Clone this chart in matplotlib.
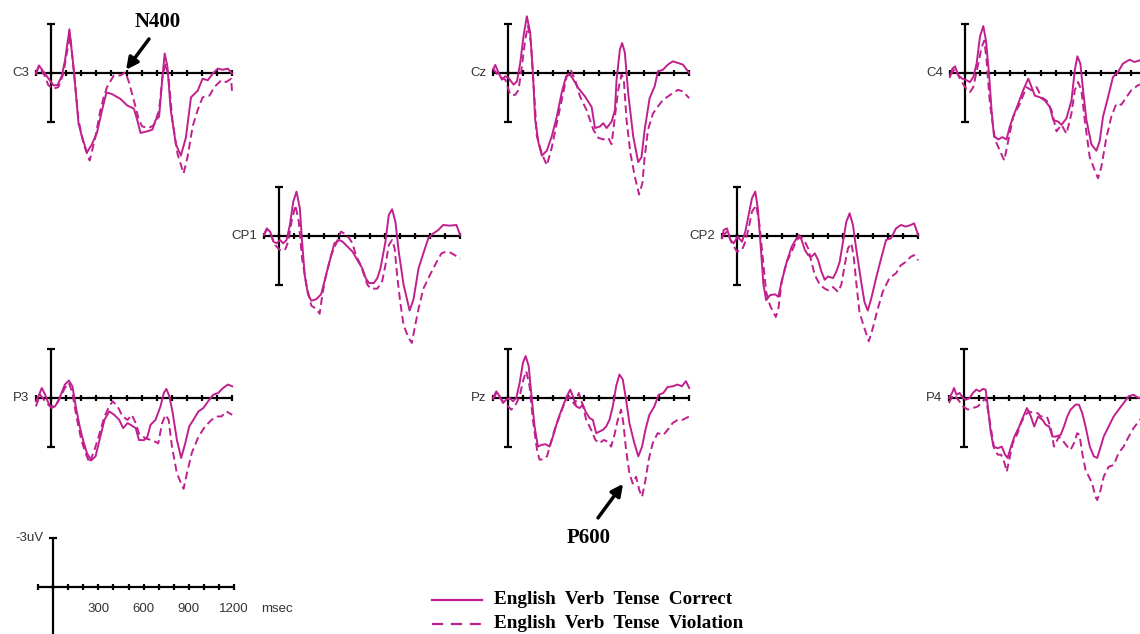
import numpy as np
import matplotlib.pyplot as plt
from matplotlib.lines import Line2D

# ERP waveforms: (ms, uV); negative is plotted upward
c3_correct = [(-100, 0.04), (-80, -0.47), (-40, 0.04), (16, 0.76), (42, 0.75), (71, 0.2), (93, -0.8),
              (122, -2.7), (153, 0.0), (182, 3.1), (204, 3.9), (238, 4.9), (271, 4.4), (304, 3.7),
              (338, 2.3), (367, 1.2), (404, 1.3), (460, 1.6), (504, 2.0), (549, 2.2), (571, 2.9),
              (593, 3.7), (638, 3.6), (671, 3.5), (693, 2.9), (716, 2.7), (738, 0.25), (753, -1.2),
              (771, -0.4), (793, 2.3), (827, 4.4), (860, 5.1), (893, 4.0), (927, 1.5), (971, 1.1),
              (1004, 0.35), (1038, 0.45), (1071, 0.04), (1104, -0.27), (1138, -0.2), (1171, -0.27),
              (1200, 0.04)]
c3_violation = [(-100, 0.04), (-80, -0.4), (-40, 0.2), (-18, 0.75), (16, 0.97), (49, 0.87), (82, 0.04),
                (104, -1.2), (127, -2.3), (153, 0.04), (182, 2.9), (216, 4.4), (256, 5.4), (293, 4.0),
                (327, 2.3), (349, 1.5), (371, 0.87), (416, 0.15), (460, 0.15), (493, -0.05), (516, 0.56),
                (549, 1.7), (582, 2.9), (604, 3.3), (649, 3.4), (682, 3.2), (716, 2.3), (738, 0.25),
                (760, -0.6), (778, 0.25), (804, 2.9), (838, 5.0), (878, 6.2), (904, 5.2), (938, 3.3),
                (971, 2.3), (1004, 1.5), (1049, 1.4), (1082, 0.87), (1127, 0.45), (1160, 0.56),
                (1193, 0.35), (1200, 1.3)]

cz_correct = [(-100, -0.2), (-84, -0.5), (-62, 0.0), (-40, 0.41), (-18, 0.2), (4, 0.31), (37, 0.72),
              (59, 0.52), (81, -0.62), (103, -2.3), (125, -3.5), (147, -2.5), (165, 0.0), (180, 2.9),
              (202, 4.3), (224, 5.1), (257, 4.8), (290, 3.9), (323, 2.7), (356, 1.2), (385, 0.2),
              (411, 0.1), (433, 0.41), (466, 0.93), (510, 1.45), (554, 2.1), (576, 3.4), (609, 3.3),
              (631, 3.1), (653, 3.4), (686, 3.0), (708, 2.3), (719, 0.41), (741, -1.45), (756, -1.85),
              (774, -1.25), (796, 1.25), (829, 3.9), (862, 5.5), (884, 5.2), (905, 3.5), (938, 1.55),
              (971, 0.83), (993, -0.1), (1026, -0.2), (1059, -0.52), (1092, -0.72), (1125, -0.62),
              (1158, -0.52), (1200, 0.0)]
cz_violation = [(-100, -0.3), (-62, 0.2), (-18, 0.41), (15, 1.35), (48, 1.35), (70, 1.04), (92, -0.41),
                (114, -2.07), (132, -2.9), (152, -1.86), (169, 0.62), (191, 3.9), (224, 4.97), (257, 5.7),
                (290, 4.6), (323, 3.1), (356, 1.66), (389, 0.2), (415, -0.2), (444, 0.41), (477, 1.45),
                (521, 2.3), (565, 3.5), (598, 4.0), (631, 4.1), (664, 4.0), (686, 4.4), (708, 2.7),
                (730, 1.04), (752, 0.1), (767, 0.41), (785, 2.9), (811, 4.97), (840, 6.4), (868, 7.5),
                (890, 6.8), (905, 5.2), (927, 3.5), (960, 2.5), (993, 2.07), (1026, 1.66), (1059, 1.45),
                (1092, 1.24), (1125, 1.04), (1158, 1.14), (1200, 1.55)]

c4_correct = [(-100, 0.25), (-84, -0.27), (-66, -0.41), (-44, 0.15), (-18, 0.35), (11, 0.45), (33, 0.56),
              (55, 0.25), (77, -0.58), (99, -2.24), (121, -2.9), (139, -2.0), (159, 0.04), (176, 2.3),
              (192, 3.9), (220, 4.1), (247, 3.96), (275, 4.1), (297, 3.3), (319, 2.7), (352, 1.9),
              (385, 1.07), (419, 0.35), (441, 0.87), (463, 1.4), (496, 1.5), (529, 1.7), (562, 2.1),
              (584, 2.9), (617, 3.0), (639, 3.2), (672, 2.8), (705, 1.7), (727, -0.16), (744, -1.03),
              (764, -0.58), (782, 1.07), (804, 2.9), (837, 4.4), (870, 4.8), (892, 4.2), (914, 2.7),
              (947, 1.5), (980, 0.25), (1013, -0.06), (1046, -0.58), (1090, -0.82), (1123, -0.68),
              (1156, -0.78), (1200, -0.6)]
c4_violation = [(-100, 0.15), (-66, -0.27), (-33, 0.35), (0, 0.87), (33, 1.18), (55, 0.87), (88, -0.58),
                (110, -1.6), (128, -2.0), (143, -0.78), (165, 1.9), (198, 4.1), (231, 4.8), (260, 5.4),
                (286, 4.2), (319, 2.7), (363, 1.9), (407, 0.87), (441, 1.07), (474, 0.87), (507, 1.5),
                (540, 1.7), (573, 2.3), (606, 3.6), (639, 3.2), (672, 3.75), (705, 2.5), (727, 1.07),
                (749, 0.56), (771, 1.07), (793, 2.9), (826, 5.2), (859, 6.0), (881, 6.5), (903, 5.8),
                (936, 4.0), (969, 2.7), (1002, 1.9), (1035, 1.96), (1068, 1.5), (1101, 1.07),
                (1145, 0.76), (1200, 0.6)]

cp1_correct = [(-100, -0.06), (-81, -0.47), (-59, -0.27), (-37, 0.35), (-15, 0.45), (7, 0.25), (28, 0.45),
               (50, 0.25), (72, -0.68), (94, -2.1), (116, -2.74), (138, -1.71), (153, 0.35), (170, 2.4),
               (192, 3.6), (214, 4.0), (247, 3.9), (279, 3.6), (301, 2.8), (334, 1.6), (367, 0.45),
               (400, 0.25), (421, 0.35), (454, 0.66), (487, 0.97), (520, 1.5), (552, 2.0), (574, 2.6),
               (596, 2.9), (629, 2.9), (651, 2.6), (672, 2.0), (705, 0.35), (727, -1.3), (749, -1.65),
               (771, -0.88), (793, 0.97), (825, 3.0), (865, 4.6), (891, 3.9), (924, 2.0), (956, 1.07),
               (989, 0.14), (1022, -0.16), (1055, -0.37), (1087, -0.68), (1131, -0.64), (1175, -0.68),
               (1200, -0.06)]
cp1_violation = [(-100, -0.06), (-81, -0.4), (-59, -0.2), (-26, 0.56), (7, 0.87), (39, 0.87), (61, 0.35),
                 (83, -0.88), (109, -1.9), (131, -0.88), (153, 1.4), (181, 3.0), (214, 4.3), (247, 4.5),
                 (269, 4.8), (290, 3.45), (312, 2.4), (345, 1.2), (384, 0.35), (410, -0.27), (432, -0.16),
                 (465, 0.14), (487, 0.45), (509, 1.18), (541, 1.8), (563, 2.4), (585, 3.0), (607, 3.25),
                 (651, 3.25), (683, 2.8), (705, 1.8), (727, 0.56), (749, 0.25), (766, 0.76), (782, 2.4),
                 (803, 4.1), (825, 5.5), (858, 6.3), (880, 6.6), (902, 5.5), (924, 4.5), (956, 3.25),
                 (1000, 2.4), (1044, 1.6), (1076, 1.07), (1105, 0.97), (1131, 1.01), (1164, 1.18),
                 (1200, 1.4)]

cp2_correct = [(-100, 0.14), (-88, -0.37), (-66, -0.47), (-44, 0.25), (-22, 0.45), (4, 0.04), (33, 0.35),
               (55, -0.27), (77, -1.3), (99, -2.33), (121, -2.74), (138, -1.71), (158, 0.76), (175, 3.0),
               (193, 3.96), (219, 3.65), (252, 3.6), (274, 3.75), (296, 2.8), (329, 1.6), (362, 0.66),
               (395, 0.14), (412, -0.06), (428, 0.25), (450, 0.87), (471, 1.18), (493, 1.28), (515, 1.07),
               (537, 1.48), (559, 2.2), (581, 2.7), (603, 2.5), (636, 2.6), (658, 2.2), (680, 1.6),
               (702, 0.35), (724, -0.88), (746, -1.4), (768, -0.68), (789, 0.76), (822, 2.8), (844, 4.07),
               (866, 4.6), (888, 3.9), (921, 2.6), (954, 1.4), (987, 0.25), (1020, 0.14), (1053, -0.47),
               (1086, -0.68), (1118, -0.58), (1151, -0.68), (1173, -0.78), (1200, -0.06)]
cp2_violation = [(-100, 0.04), (-66, -0.27), (-33, 0.45), (0, 0.97), (33, 0.87), (55, 0.35), (77, -0.47),
                 (99, -1.5), (127, -1.9), (149, -0.68), (171, 1.38), (193, 3.45), (219, 4.3), (241, 4.7),
                 (257, 5.0), (274, 4.5), (296, 2.8), (329, 1.6), (362, 0.97), (395, 0.25), (421, 0.04),
                 (450, 0.35), (471, 0.76), (493, 1.6), (515, 2.4), (548, 3.0), (581, 3.25), (603, 3.35),
                 (636, 3.15), (669, 3.45), (691, 3.0), (713, 1.8), (735, 0.76), (757, 0.45), (772, 1.18),
                 (789, 2.8), (811, 4.7), (844, 5.7), (873, 6.5), (899, 5.7), (932, 4.5), (965, 3.45),
                 (1009, 2.6), (1053, 2.3), (1086, 1.8), (1118, 1.6), (1151, 1.28), (1173, 1.18),
                 (1200, 1.5)]

p3_correct = [(-100, 0.2), (-83, -0.1), (-61, -0.62), (-39, -0.2), (-17, 0.31), (4, 0.62), (26, 0.52),
              (48, 0.2), (70, -0.31), (92, -0.83), (118, -1.08), (142, -0.72), (164, 0.52), (190, 1.76),
              (212, 2.6), (238, 3.4), (266, 3.85), (295, 3.6), (321, 2.6), (354, 1.35), (386, 0.83),
              (419, 1.04), (452, 1.35), (478, 1.86), (507, 1.55), (528, 1.66), (561, 1.86), (583, 2.6),
              (616, 2.6), (638, 2.4), (659, 1.66), (692, 1.35), (725, 0.52), (747, -0.31), (764, -0.56),
              (784, -0.1), (806, 0.93), (834, 2.6), (862, 3.7), (889, 2.8), (915, 1.76), (943, 1.35),
              (976, 0.83), (1009, 0.62), (1041, 0.2), (1074, -0.2), (1107, -0.31), (1140, -0.62),
              (1172, -0.83), (1200, -0.72)]
p3_violation = [(-100, 0.52), (-72, -0.2), (-39, 0.2), (-7, 0.52), (26, 0.52), (59, 0.0), (92, -0.62),
                (118, -0.93), (142, -0.31), (168, 1.14), (201, 2.6), (229, 3.4), (255, 4.0), (288, 3.2),
                (321, 2.2), (354, 1.14), (386, 0.52), (408, 0.2), (441, 0.52), (474, 1.14), (507, 1.35),
                (535, 1.04), (561, 1.55), (583, 2.2), (627, 2.5), (670, 2.6), (710, 2.8), (736, 1.55),
                (758, 1.04), (779, 1.35), (801, 3.0), (834, 4.66), (862, 5.28), (878, 5.6), (900, 4.66),
                (932, 3.4), (976, 2.4), (1020, 1.76), (1063, 1.35), (1096, 1.14), (1129, 1.14),
                (1162, 0.83), (1200, 1.04)]

pz_correct = [(-100, 0.0), (-77, -0.41), (-55, -0.1), (-33, 0.31), (-11, 0.1), (11, 0.0), (33, 0.2),
              (55, 0.0), (77, -0.93), (99, -2.17), (117, -2.59), (137, -1.97), (154, -0.31), (176, 1.76),
              (198, 3.0), (220, 2.9), (249, 2.85), (275, 3.0), (297, 2.4), (330, 1.35), (363, 0.52),
              (390, -0.1), (412, -0.52), (430, -0.1), (452, 0.52), (474, 0.62), (496, 0.41), (513, 0.83),
              (540, 1.24), (562, 1.35), (584, 2.17), (606, 2.07), (628, 1.97), (650, 1.76), (672, 1.35),
              (694, 0.52), (716, -0.72), (738, -1.45), (760, -1.14), (782, 0.1), (804, 1.55), (837, 2.8),
              (863, 3.6), (888, 3.0), (910, 1.97), (936, 1.04), (969, 0.52), (998, -0.2), (1029, -0.31),
              (1057, -0.68), (1090, -0.72), (1123, -0.83), (1152, -0.72), (1178, -1.04), (1200, -0.62)]
pz_violation = [(-100, 0.1), (-77, -0.31), (-44, 0.1), (-11, 0.41), (22, 0.72), (51, 0.41), (77, -0.1),
                (99, -1.04), (121, -1.66), (143, -0.72), (165, 1.35), (192, 3.2), (209, 3.8), (231, 3.8),
                (258, 3.6), (280, 2.9), (308, 1.97), (341, 1.14), (374, 0.31), (407, -0.1), (441, 0.41),
                (469, -0.31), (491, 0.31), (518, 1.35), (551, 1.97), (579, 2.59), (606, 2.8), (634, 2.59),
                (661, 2.7), (683, 3.0), (705, 2.28), (727, 1.35), (749, 0.72), (764, 1.55), (782, 3.2),
                (804, 4.66), (826, 5.28), (848, 4.86), (870, 5.7), (888, 6.1), (910, 5.07), (932, 3.8),
                (958, 2.8), (991, 2.17), (1029, 2.28), (1057, 1.97), (1090, 1.55), (1123, 1.35),
                (1156, 1.35), (1200, 1.14)]

p4_correct = [(-100, 0.0), (-79, -0.31), (-66, -0.62), (-50, -0.2), (-29, -0.31), (-7, 0.0), (15, 0.1),
              (37, 0.0), (59, -0.31), (81, -0.52), (103, -0.41), (125, -0.56), (143, -0.52), (158, 0.52),
              (175, 1.97), (195, 3.0), (224, 3.1), (250, 3.0), (272, 3.5), (289, 3.7), (311, 3.0),
              (333, 2.4), (366, 1.76), (388, 1.24), (417, 0.62), (443, 1.14), (465, 1.76), (491, 1.14),
              (520, 1.35), (542, 1.66), (564, 1.76), (586, 2.38), (607, 2.38), (640, 2.28), (662, 1.76),
              (684, 1.14), (706, 0.72), (739, 0.41), (761, 0.41), (783, 0.93), (805, 1.76), (833, 3.0),
              (860, 3.6), (882, 3.7), (899, 3.2), (925, 2.38), (958, 1.76), (991, 1.14), (1024, 0.72),
              (1057, 0.31), (1090, -0.1), (1123, -0.2), (1156, 0.0), (1200, -0.1)]
p4_violation = [(-100, 0.31), (-72, -0.2), (-39, 0.1), (-7, 0.52), (26, 0.72), (59, 0.62), (92, 0.52),
                (125, 0.2), (143, 0.0), (158, 0.72), (180, 1.97), (202, 3.2), (224, 3.5), (246, 3.5),
                (268, 4.0), (283, 4.55), (300, 3.8), (322, 2.8), (355, 2.17), (377, 1.55), (406, 1.04),
                (432, 0.83), (461, 0.93), (487, 0.93), (509, 1.14), (542, 1.14), (553, 1.24), (575, 1.86),
                (596, 3.0), (629, 2.38), (651, 2.59), (684, 3.0), (706, 3.2), (728, 2.8), (750, 2.17),
                (765, 2.28), (783, 3.4), (805, 4.45), (827, 4.86), (849, 5.28), (871, 6.1), (882, 6.3),
                (904, 5.7), (925, 4.86), (958, 4.24), (991, 4.14), (1024, 3.4), (1057, 3.0), (1090, 2.4),
                (1123, 1.86), (1156, 1.45), (1200, 1.0)]

scale_ticks = [300, 600, 900, 1200]

# page layout (pixels): panel name, x of 0 ms, y of 0 uV
W, H = 1140, 634
PX_MS = 0.151   # pixels per ms
PX_UV = 16.2    # pixels per uV
T_MIN, T_MAX = -160, 1260
V_MIN, V_MAX = -4.6, 8.0

panels = [
    ("C3", 51, 73, c3_correct, c3_violation),
    ("Cz", 508, 73, cz_correct, cz_violation),
    ("C4", 965, 73, c4_correct, c4_violation),
    ("CP1", 279, 236, cp1_correct, cp1_violation),
    ("CP2", 737, 236, cp2_correct, cp2_violation),
    ("P3", 51, 398, p3_correct, p3_violation),
    ("Pz", 508, 398, pz_correct, pz_violation),
    ("P4", 964, 398, p4_correct, p4_violation),
]

MAGENTA = "#c0208e"
LABEL_FONT = "Liberation Sans"
SERIF = "Liberation Serif"
LABEL_SIZE = 9.5

fig = plt.figure(figsize=(W / 100, H / 100), dpi=100)


def panel_axes(x0, y0):
    left = (x0 + T_MIN * PX_MS) / W
    bottom = 1 - (y0 + V_MAX * PX_UV) / H
    width = (T_MAX - T_MIN) * PX_MS / W
    height = (V_MAX - V_MIN) * PX_UV / H
    ax = fig.add_axes([left, bottom, width, height])
    ax.set_xlim(T_MIN, T_MAX)
    ax.set_ylim(V_MAX, V_MIN)  # negative up
    ax.axis("off")
    return ax


def draw_frame(ax, bottom_cap=True):
    kw = dict(color="black", lw=1.6, clip_on=False, solid_capstyle="butt")
    ax.plot([-100, 1200], [0, 0], **kw)
    ax.plot([0, 0], [-3, 3], **kw)
    ax.plot([-28, 28], [-3, -3], **kw)
    if bottom_cap:
        ax.plot([-28, 28], [3, 3], **kw)
    ax.vlines(np.arange(-100, 1201, 100), -0.2, 0.2, color="black", lw=1.6, clip_on=False)


for name, x0, y0, correct, violation in panels:
    ax = panel_axes(x0, y0)
    draw_frame(ax)
    t, v = zip(*correct)
    ax.plot(t, v, color=MAGENTA, lw=1.4, clip_on=False)
    t, v = zip(*violation)
    ax.plot(t, v, color=MAGENTA, lw=1.4, ls=(0, (4, 2.2)), clip_on=False)
    ax.text(-145, 0, name, ha="right", va="center", fontsize=LABEL_SIZE, family=LABEL_FONT,
            color="#333333")

    if name == "C3":
        ax.annotate("", xy=(497, -0.2), xytext=(649, -2.1),
                    arrowprops=dict(arrowstyle="-|>,head_length=0.7,head_width=0.35",
                                    lw=2.5, color="black", shrinkA=0, shrinkB=0))
        ax.text(709, -3.15, "N400", ha="center", va="center", fontsize=15,
                family=SERIF, weight="bold")
    if name == "Pz":
        ax.annotate("", xy=(762, 5.3), xytext=(596, 7.4),
                    arrowprops=dict(arrowstyle="-|>,head_length=0.7,head_width=0.35",
                                    lw=2.5, color="black", shrinkA=0, shrinkB=0))
        ax.text(536, 8.64, "P600", ha="center", va="center", fontsize=15,
                family=SERIF, weight="bold")

# calibration axes
ax = panel_axes(53, 587)
draw_frame(ax, bottom_cap=False)
ax.text(-60, -3, "-3uV", ha="right", va="center", fontsize=LABEL_SIZE, family=LABEL_FONT,
        color="#333333")
for tk in scale_ticks:
    ax.text(tk, 1.35, str(tk), ha="center", va="center", fontsize=LABEL_SIZE, family=LABEL_FONT,
            color="#333333")
ax.text(1380, 1.35, "msec", ha="left", va="center", fontsize=LABEL_SIZE, family=LABEL_FONT,
        color="#333333")

# legend
fig.add_artist(Line2D([432 / W, 482 / W], [1 - 600 / H] * 2, color=MAGENTA, lw=1.6))
fig.add_artist(Line2D([432 / W, 482 / W], [1 - 624 / H] * 2, color=MAGENTA, lw=1.6, ls=(0, (5, 3.5))))
fig.text(494 / W, 1 - 600 / H, "English  Verb  Tense  Correct", ha="left", va="center",
         fontsize=13.8, family=SERIF, weight="bold")
fig.text(494 / W, 1 - 624 / H, "English  Verb  Tense  Violation", ha="left", va="center",
         fontsize=13.8, family=SERIF, weight="bold")

fig.savefig("out.png", dpi=100)
